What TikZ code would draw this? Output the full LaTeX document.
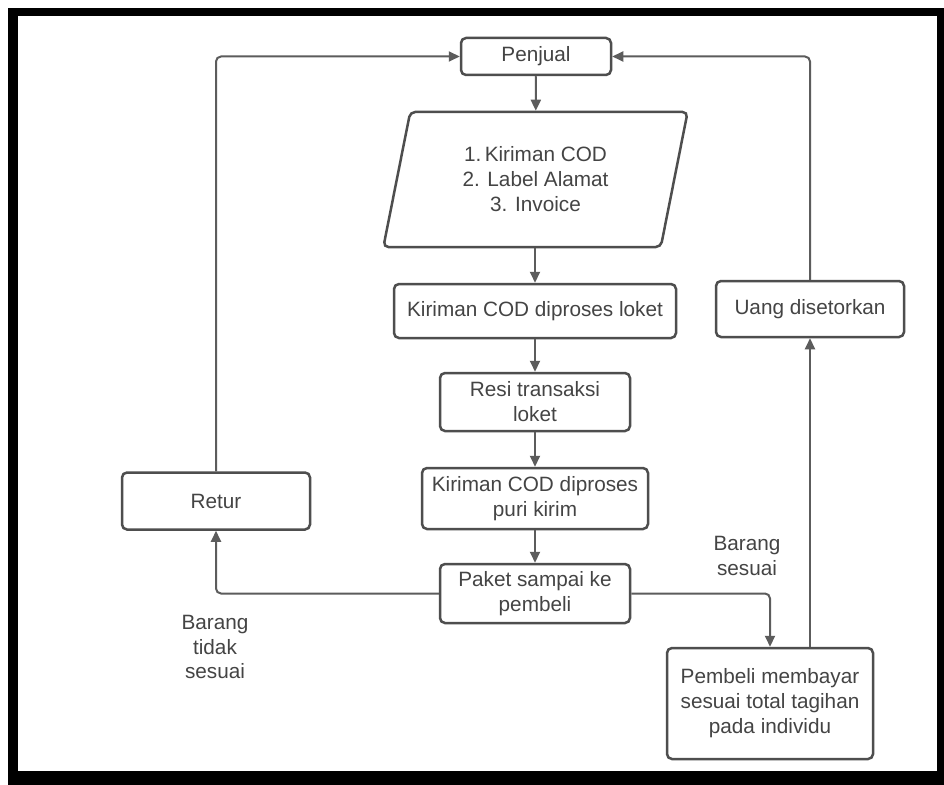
\documentclass[tikz,border=0pt]{standalone}
\usepackage{fontspec}
\setmainfont{Liberation Sans}
\usetikzlibrary{arrows.meta}
\usetikzlibrary{positioning}
\usetikzlibrary{shapes.geometric}
\definecolor{boxgray}{HTML}{4E4E4E}
\definecolor{linegray}{HTML}{5C5C5C}
\definecolor{textgray}{HTML}{444444}

\begin{document}
\begin{tikzpicture}[x=0.2mm,y=-0.2mm]
		\tikzset{box/.style = {shape=rectangle,draw=boxgray,line width=0.5mm,rounded corners=1mm,inner sep=0pt,align=center,text=textgray,font=\fontsize{11.8}{14.2}\selectfont}}
		\tikzset{lbl/.style = {align=center,text=textgray,font=\fontsize{11.8}{14.2}\selectfont}}
		\tikzset{edge/.style = {draw=linegray,line width=0.4mm,-{Triangle[length=2.2mm,width=2mm]}}}
		% frame
		\useasboundingbox (0,0) rectangle (944,785);
		\fill[black] (8,8) rectangle (944,785);
		\fill[white] (18,16) rectangle (937,771);
		% vertices
		\node[box,minimum width=30mm,minimum height=7.4mm] (penjual) at (536,56.5) {Penjual};
		\node[box,shape=trapezium,trapezium left angle=76.5,trapezium right angle=103.5,trapezium stretches=true,minimum width=61mm,minimum height=27mm] (dokumen) at (535.5,179.5) {1.\,Kiriman COD\\2. Label Alamat\\3. Invoice};
		\node[box,minimum width=56.4mm,minimum height=10.8mm] (loket) at (535,311) {Kiriman COD diproses loket};
		\node[box,minimum width=38mm,minimum height=11.6mm] (resi) at (535,402) {Resi transaksi\\loket};
		\node[box,minimum width=45.2mm,minimum height=12.2mm] (puri) at (535,498.5) {Kiriman COD diproses\\puri kirim};
		\node[box,minimum width=38mm,minimum height=11.8mm] (paket) at (535,593.5) {Paket sampai ke\\pembeli};
		\node[box,minimum width=37.6mm,minimum height=11.4mm] (retur) at (216,501) {Retur};
		\node[box,minimum width=41.2mm,minimum height=22.2mm] (pembeli) at (770,703.5) {Pembeli membayar\\sesuai total tagihan\\pada individu};
		\node[box,minimum width=37.6mm,minimum height=11.2mm] (uang) at (810,309) {Uang disetorkan};
		
		\node[lbl] (tidak) at (215,647) {Barang\\tidak\\sesuai};
		\node[lbl] (sesuai) at (747,556) {Barang\\sesuai};
		
		%edges
		\draw[edge] (penjual) -- (dokumen);
		\draw[edge] (dokumen.south -| loket) -- (loket);
		\draw[edge] (loket) -- (resi);
		\draw[edge] (resi) -- (puri);
		\draw[edge] (puri) -- (paket);
		\draw[edge,rounded corners=1mm] (paket.west) -| (retur.south);
		\draw[edge,rounded corners=1mm] (retur.north) |- (penjual.west);
		\draw[edge,rounded corners=1mm] (paket.east) -| (pembeli.north);
		\draw[edge] (pembeli.north -| uang.south) -- (uang.south);
		\draw[edge,rounded corners=1mm] (uang.north) |- (penjual.east);
\end{tikzpicture}
\end{document}
